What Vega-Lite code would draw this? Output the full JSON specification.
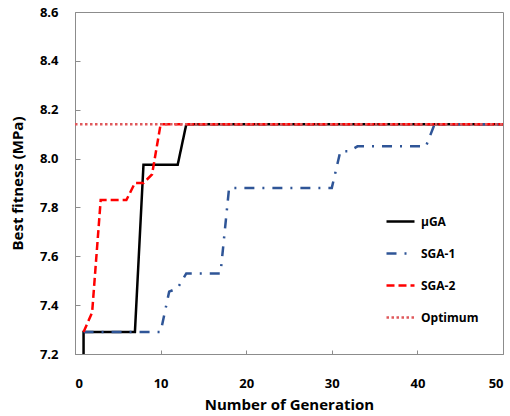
{
  "$schema": "https://vega.github.io/schema/vega-lite/v6.json",
  "width": 428,
  "height": 342,
  "autosize": "none",
  "padding": {"left": 75, "top": 12, "right": 7, "bottom": 62},
  "config": {
    "font": "Open Sans",
    "view": {"stroke": "#8c8c8c", "strokeWidth": 1}
  },
  "data": {
    "values": [
      {"series": "μGA", "i": 1, "gen": 1, "fit": 7.2},
      {"series": "μGA", "i": 2, "gen": 1, "fit": 7.29},
      {"series": "μGA", "i": 3, "gen": 7, "fit": 7.29},
      {"series": "μGA", "i": 4, "gen": 8, "fit": 7.975},
      {"series": "μGA", "i": 5, "gen": 12, "fit": 7.975},
      {"series": "μGA", "i": 6, "gen": 13, "fit": 8.14},
      {"series": "μGA", "i": 7, "gen": 50, "fit": 8.14},
      {"series": "SGA-1", "i": 1, "gen": 1, "fit": 7.29},
      {"series": "SGA-1", "i": 2, "gen": 10, "fit": 7.29},
      {"series": "SGA-1", "i": 3, "gen": 11, "fit": 7.455},
      {"series": "SGA-1", "i": 4, "gen": 12, "fit": 7.47},
      {"series": "SGA-1", "i": 5, "gen": 13, "fit": 7.53},
      {"series": "SGA-1", "i": 6, "gen": 17, "fit": 7.53},
      {"series": "SGA-1", "i": 7, "gen": 18, "fit": 7.88},
      {"series": "SGA-1", "i": 8, "gen": 30, "fit": 7.88},
      {"series": "SGA-1", "i": 9, "gen": 31, "fit": 8.03},
      {"series": "SGA-1", "i": 10, "gen": 32, "fit": 8.03},
      {"series": "SGA-1", "i": 11, "gen": 33, "fit": 8.05},
      {"series": "SGA-1", "i": 12, "gen": 41, "fit": 8.05},
      {"series": "SGA-1", "i": 13, "gen": 42, "fit": 8.14},
      {"series": "SGA-1", "i": 14, "gen": 50, "fit": 8.14},
      {"series": "SGA-2", "i": 1, "gen": 1, "fit": 7.29},
      {"series": "SGA-2", "i": 2, "gen": 2, "fit": 7.37},
      {"series": "SGA-2", "i": 3, "gen": 3, "fit": 7.83},
      {"series": "SGA-2", "i": 4, "gen": 6, "fit": 7.83},
      {"series": "SGA-2", "i": 5, "gen": 7, "fit": 7.9},
      {"series": "SGA-2", "i": 6, "gen": 8, "fit": 7.9},
      {"series": "SGA-2", "i": 7, "gen": 9, "fit": 7.935},
      {"series": "SGA-2", "i": 8, "gen": 10, "fit": 8.14},
      {"series": "SGA-2", "i": 9, "gen": 50, "fit": 8.14},
      {"series": "Optimum", "i": 1, "gen": 0, "fit": 8.14},
      {"series": "Optimum", "i": 2, "gen": 50, "fit": 8.14}
    ]
  },
  "mark": {"type": "line", "strokeWidth": 2.5, "clip": true},
  "encoding": {
    "x": {
      "field": "gen", "type": "quantitative",
      "scale": {"domain": [0, 50], "nice": false},
      "axis": {
        "title": "Number of Generation",
        "values": [0, 10, 20, 30, 40, 50],
        "grid": false,
        "domainColor": "#8c8c8c",
        "tickColor": "#8c8c8c",
        "tickSize": -4,
        "labelPadding": 27,
        "labelFont": "Open Sans",
        "labelFontSize": 13,
        "labelFontWeight": "bold",
        "labelColor": "#000000",
        "titleFont": "Open Sans",
        "titleFontSize": 15,
        "titleFontWeight": "bold",
        "titleColor": "#000000",
        "titlePadding": 7
      }
    },
    "y": {
      "field": "fit", "type": "quantitative",
      "scale": {"domain": [7.2, 8.6], "nice": false, "zero": false},
      "axis": {
        "title": "Best fitness (MPa)",
        "values": [7.2, 7.4, 7.6, 7.8, 8.0, 8.2, 8.4, 8.6],
        "format": ".1f",
        "grid": false,
        "domainColor": "#8c8c8c",
        "tickColor": "#8c8c8c",
        "tickSize": -5,
        "labelPadding": 22,
        "labelFont": "Open Sans",
        "labelFontSize": 13,
        "labelFontWeight": "bold",
        "labelColor": "#000000",
        "titleFont": "Open Sans",
        "titleFontSize": 15,
        "titleFontWeight": "bold",
        "titleColor": "#000000",
        "titlePadding": 14
      }
    },
    "color": {
      "field": "series", "type": "nominal",
      "scale": {
        "domain": ["μGA", "SGA-1", "SGA-2", "Optimum"],
        "range": ["#000000", "#2F5597", "#FF0000", "#E0585B"]
      },
      "legend": {
        "title": null,
        "orient": "none",
        "legendX": 310,
        "legendY": 194,
        "symbolType": "stroke",
        "symbolSize": 784,
        "symbolStrokeWidth": 2.5,
        "rowPadding": 10,
        "labelOffset": 5,
        "labelFont": "Open Sans",
        "labelFontSize": 12,
        "labelFontWeight": "bold",
        "labelColor": "#000000"
      }
    },
    "strokeDash": {
      "field": "series", "type": "nominal",
      "scale": {
        "domain": ["μGA", "SGA-1", "SGA-2", "Optimum"],
        "range": [[1, 0], [10, 8, 2, 8], [8, 4], [2.5, 2.5]]
      },
      "legend": null
    },
    "order": {"field": "i", "type": "quantitative"}
  }
}
